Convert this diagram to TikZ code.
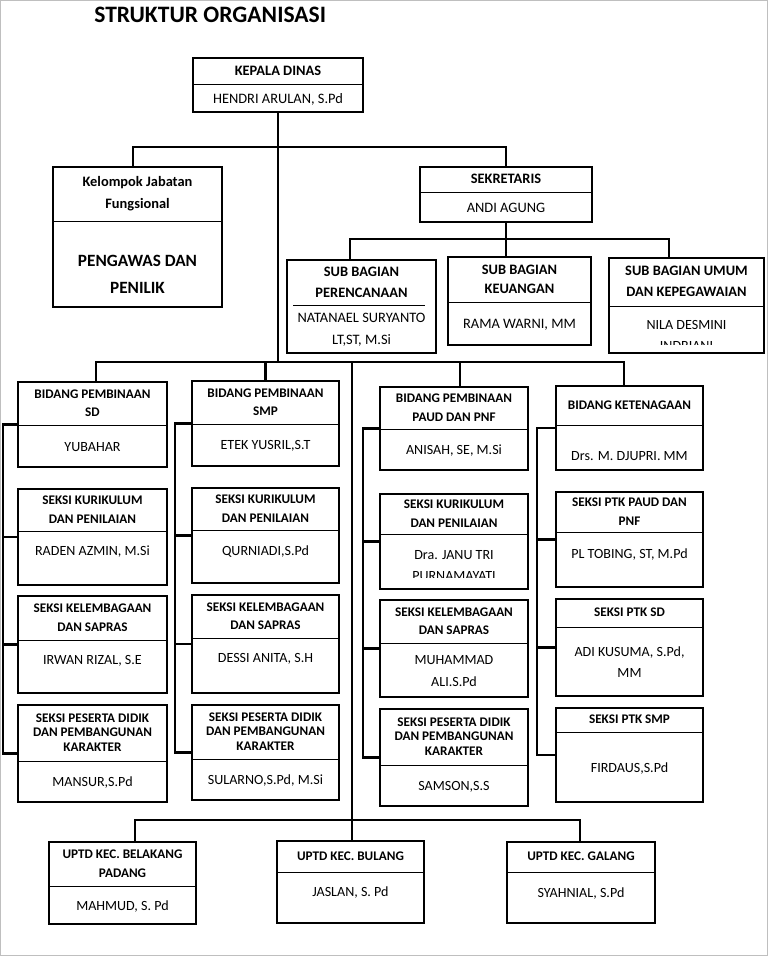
\documentclass[tikz,border=0pt]{standalone}
\usepackage{fontspec}
\setmainfont{Carlito}
\usepackage{tikz}
\usetikzlibrary{calc}
\tikzstyle{orgbox} = [rectangle, draw, line width=1.6pt, inner sep=0pt]
\tikzstyle{posbox} = [rectangle, draw, line width=0.6pt, align=center, inner sep=1pt,
      font=\bfseries\fontsize{7.5}{10.5}\selectfont]
\tikzstyle{topbox} = [posbox, font=\bfseries\fontsize{8.2}{12}\selectfont]
\tikzstyle{personbox} = [align=center, inner sep=1pt, font=\fontsize{8}{12}\selectfont]
\tikzstyle{topperson} = [personbox, font=\fontsize{8.2}{12.5}\selectfont]
\tikzstyle{titletext} = [inner sep=0pt, font=\bfseries\fontsize{13.4}{16}\selectfont]
\tikzstyle{line} = [draw, line width=1.6pt]

\begin{document}
\begin{tikzpicture}[x=0.02cm, y=-0.02cm]
	  \useasboundingbox (0,0) rectangle (768,956);
	  \draw [gray!50, line width=0.6pt] (0.5,0.5) rectangle (767.5,955.5);
	  \node [titletext, anchor=base west] (title) at (94,23) {STRUKTUR ORGANISASI};
	  % Pimpinan
	  \node [orgbox, minimum width=3.4cm, minimum height=1.08cm] (kepala) at (278,85) {};
	  \node [topbox, minimum width=3.4cm, minimum height=0.54cm, anchor=north] (kepalaH) at (kepala.north) {KEPALA DINAS};
	  \node [topperson] (kepalaN) at ($(kepalaH.south)!0.5!(kepala.south)$) {HENDRI ARULAN, S.Pd};
	  \node [orgbox, minimum width=3.38cm, minimum height=2.8cm] (kjf) at (137.5,237) {};
	  \node [topbox, minimum width=3.38cm, minimum height=1.1cm, anchor=north, font=\bfseries\fontsize{8.2}{12.5}\selectfont] (kjfH) at (kjf.north) {Kelompok Jabatan\\Fungsional};
	  \node [personbox, yshift=-0.18cm, font=\bfseries\fontsize{9.8}{15.5}\selectfont] (kjfN) at ($(kjfH.south)!0.5!(kjf.south)$) {PENGAWAS DAN\\PENILIK};
	  \node [orgbox, minimum width=3.44cm, minimum height=1.1cm] (sek) at (506,194.5) {};
	  \node [topbox, minimum width=3.44cm, minimum height=0.52cm, anchor=north] (sekH) at (sek.north) {SEKRETARIS};
	  \node [topperson] (sekN) at ($(sekH.south)!0.5!(sek.south)$) {ANDI AGUNG};
	  % Sub bagian
	  \node [orgbox, minimum width=2.98cm, minimum height=1.86cm] (ren) at (361.5,306.5) {};
	  \node [topbox, draw=none, minimum width=2.98cm, minimum height=0.92cm, anchor=north] (renH) at (ren.north) {SUB BAGIAN\\PERENCANAAN};
	  \draw [line width=0.6pt] ([xshift=0.14cm]renH.south west) -- ([xshift=-0.24cm]renH.south east);
	  \node [topperson] (renN) at ($(renH.south)!0.5!(ren.south)$) {NATANAEL SURYANTO\\LT,ST, M.Si};
	  \node [orgbox, minimum width=2.86cm, minimum height=1.76cm] (keu) at (519.5,301) {};
	  \node [topbox, minimum width=2.86cm, minimum height=0.92cm, anchor=north, font=\bfseries\fontsize{8.2}{11}\selectfont] (keuH) at (keu.north) {SUB BAGIAN\\KEUANGAN};
	  \node [topperson] (keuN) at ($(keuH.south)!0.5!(keu.south)$) {RAMA WARNI, MM};
	  \node [orgbox, minimum width=3.1cm, minimum height=1.9cm] (umum) at (686.5,305.5) {};
	  \node [topbox, minimum width=3.1cm, minimum height=0.98cm, anchor=north] (umumH) at (umum.north) {SUB BAGIAN UMUM\\DAN KEPEGAWAIAN};
	  \begin{scope}
	    \clip ([yshift=0.2cm]umum.south west) rectangle (umumH.south east);
	    \node [personbox, yshift=-0.1cm] (umumN) at ($(umumH.south)!0.5!(umum.south)$) {NILA DESMINI\\INDRIANI};
	  \end{scope}
	  % Bidang SD
	  \node [orgbox, minimum width=2.98cm, minimum height=1.7cm] (sd) at (92.5,424.5) {};
	  \node [posbox, minimum width=2.98cm, minimum height=0.88cm, anchor=north] (sdH) at (sd.north) {BIDANG PEMBINAAN\\SD};
	  \node [personbox] (sdN) at ($(sdH.south)!0.5!(sd.south)$) {YUBAHAR};
	  \node [orgbox, minimum width=2.98cm, minimum height=1.92cm] (sdKur) at (92.5,537) {};
	  \node [posbox, minimum width=2.98cm, minimum height=0.86cm, anchor=north] (sdKurH) at (sdKur.north) {SEKSI KURIKULUM\\DAN PENILAIAN};
	  \node [personbox, yshift=0.14cm] (sdKurN) at ($(sdKurH.south)!0.5!(sdKur.south)$) {RADEN AZMIN, M.Si};
	  \node [orgbox, minimum width=2.98cm, minimum height=1.94cm] (sdLem) at (92.5,644.5) {};
	  \node [posbox, minimum width=2.98cm, minimum height=0.9cm, anchor=north] (sdLemH) at (sdLem.north) {SEKSI KELEMBAGAAN\\DAN SAPRAS};
	  \node [personbox, yshift=0.14cm] (sdLemN) at ($(sdLemH.south)!0.5!(sdLem.south)$) {IRWAN RIZAL, S.E};
	  \node [orgbox, minimum width=2.98cm, minimum height=1.94cm] (sdPes) at (92.5,753.5) {};
	  \node [posbox, minimum width=2.98cm, minimum height=1.14cm, anchor=north] (sdPesH) at (sdPes.north) {SEKSI PESERTA DIDIK\\[-2pt]DAN PEMBANGUNAN\\[-2pt]KARAKTER};
	  \node [personbox] (sdPesN) at ($(sdPesH.south)!0.5!(sdPes.south)$) {MANSUR,S.Pd};
	  % Bidang SMP
	  \node [orgbox, minimum width=2.94cm, minimum height=1.7cm] (smp) at (265.5,423.5) {};
	  \node [posbox, minimum width=2.94cm, minimum height=0.88cm, anchor=north] (smpH) at (smp.north) {BIDANG PEMBINAAN\\SMP};
	  \node [personbox] (smpN) at ($(smpH.south)!0.5!(smp.south)$) {ETEK YUSRIL,S.T};
	  \node [orgbox, minimum width=2.94cm, minimum height=1.9cm] (smpKur) at (265.5,535.5) {};
	  \node [posbox, minimum width=2.94cm, minimum height=0.86cm, anchor=north] (smpKurH) at (smpKur.north) {SEKSI KURIKULUM\\DAN PENILAIAN};
	  \node [personbox, yshift=0.12cm] (smpKurN) at ($(smpKurH.south)!0.5!(smpKur.south)$) {QURNIADI,S.Pd};
	  \node [orgbox, minimum width=2.94cm, minimum height=1.96cm] (smpLem) at (265.5,644) {};
	  \node [posbox, minimum width=2.94cm, minimum height=0.88cm, anchor=north] (smpLemH) at (smpLem.north) {SEKSI KELEMBAGAAN\\DAN SAPRAS};
	  \node [personbox, yshift=0.16cm] (smpLemN) at ($(smpLemH.south)!0.5!(smpLem.south)$) {DESSI ANITA, S.H};
	  \node [orgbox, minimum width=2.94cm, minimum height=1.9cm] (smpPes) at (265.5,752.5) {};
	  \node [posbox, minimum width=2.94cm, minimum height=1.1cm, anchor=north] (smpPesH) at (smpPes.north) {SEKSI PESERTA DIDIK\\[-2pt]DAN PEMBANGUNAN\\[-2pt]KARAKTER};
	  \node [personbox] (smpPesN) at ($(smpPesH.south)!0.5!(smpPes.south)$) {SULARNO,S.Pd, M.Si};
	  % Bidang PAUD
	  \node [orgbox, minimum width=2.96cm, minimum height=1.66cm] (paud) at (454,428.5) {};
	  \node [posbox, minimum width=2.96cm, minimum height=0.86cm, anchor=north] (paudH) at (paud.north) {BIDANG PEMBINAAN\\PAUD DAN PNF};
	  \node [personbox] (paudN) at ($(paudH.south)!0.5!(paud.south)$) {ANISAH, SE, M.Si};
	  \node [orgbox, minimum width=2.96cm, minimum height=1.9cm] (paudKur) at (454,541.5) {};
	  \node [posbox, minimum width=2.96cm, minimum height=0.82cm, anchor=north] (paudKurH) at (paudKur.north) {SEKSI KURIKULUM\\DAN PENILAIAN};
	  \begin{scope}
	    \clip ([yshift=0.26cm]paudKur.south west) rectangle (paudKurH.south east);
	    \node [personbox, yshift=-0.06cm] (paudKurN) at ($(paudKurH.south)!0.5!(paudKur.south)$) {Dra. JANU TRI\\PURNAMAYATI};
	  \end{scope}
	  \node [orgbox, minimum width=2.96cm, minimum height=1.94cm] (paudLem) at (454,648.5) {};
	  \node [posbox, minimum width=2.96cm, minimum height=0.88cm, anchor=north] (paudLemH) at (paudLem.north) {SEKSI KELEMBAGAAN\\DAN SAPRAS};
	  \node [personbox] (paudLemN) at ($(paudLemH.south)!0.5!(paudLem.south)$) {MUHAMMAD\\ALI.S.Pd};
	  \node [orgbox, minimum width=2.96cm, minimum height=1.94cm] (paudPes) at (454,757.5) {};
	  \node [posbox, minimum width=2.96cm, minimum height=1.14cm, anchor=north] (paudPesH) at (paudPes.north) {SEKSI PESERTA DIDIK\\[-2pt]DAN PEMBANGUNAN\\[-2pt]KARAKTER};
	  \node [personbox] (paudPesN) at ($(paudPesH.south)!0.5!(paudPes.south)$) {SAMSON,S.S};
	  % Bidang Ketenagaan
	  \node [orgbox, minimum width=2.94cm, minimum height=1.68cm] (ket) at (629.5,428) {};
	  \node [posbox, minimum width=2.94cm, minimum height=0.8cm, anchor=north] (ketH) at (ket.north) {BIDANG KETENAGAAN};
	  \node [personbox, yshift=-0.16cm] (ketN) at ($(ketH.south)!0.5!(ket.south)$) {Drs. M. DJUPRI. MM};
	  \node [orgbox, minimum width=2.94cm, minimum height=1.9cm] (ptkPaud) at (629.5,539.5) {};
	  \node [posbox, minimum width=2.94cm, minimum height=0.82cm, anchor=north] (ptkPaudH) at (ptkPaud.north) {SEKSI PTK PAUD DAN\\PNF};
	  \node [personbox, yshift=0.12cm] (ptkPaudN) at ($(ptkPaudH.south)!0.5!(ptkPaud.south)$) {PL TOBING, ST, M.Pd};
	  \node [orgbox, minimum width=2.94cm, minimum height=1.94cm] (ptkSd) at (629.5,647.5) {};
	  \node [posbox, minimum width=2.94cm, minimum height=0.58cm, anchor=north] (ptkSdH) at (ptkSd.north) {SEKSI PTK SD};
	  \node [personbox] (ptkSdN) at ($(ptkSdH.south)!0.5!(ptkSd.south)$) {ADI KUSUMA, S.Pd,\\MM};
	  \node [orgbox, minimum width=2.94cm, minimum height=1.88cm] (ptkSmp) at (629.5,755) {};
	  \node [posbox, minimum width=2.94cm, minimum height=0.5cm, anchor=north] (ptkSmpH) at (ptkSmp.north) {SEKSI PTK SMP};
	  \node [personbox] (ptkSmpN) at ($(ptkSmpH.south)!0.5!(ptkSmp.south)$) {FIRDAUS,S.Pd};
	  % UPTD
	  \node [orgbox, minimum width=2.94cm, minimum height=1.64cm] (bel) at (122.5,883) {};
	  \node [posbox, minimum width=2.94cm, minimum height=0.9cm, anchor=north] (belH) at (bel.north) {UPTD KEC. BELAKANG\\PADANG};
	  \node [personbox] (belN) at ($(belH.south)!0.5!(bel.south)$) {MAHMUD, S. Pd};
	  \node [orgbox, minimum width=2.94cm, minimum height=1.64cm] (bul) at (350.5,882) {};
	  \node [posbox, minimum width=2.94cm, minimum height=0.64cm, anchor=north] (bulH) at (bul.north) {UPTD KEC. BULANG};
	  \node [personbox, yshift=0.12cm] (bulN) at ($(bulH.south)!0.5!(bul.south)$) {JASLAN, S. Pd};
	  \node [orgbox, minimum width=2.96cm, minimum height=1.62cm] (gal) at (581,882.5) {};
	  \node [posbox, minimum width=2.96cm, minimum height=0.62cm, anchor=north] (galH) at (gal.north) {UPTD KEC. GALANG};
	  \node [personbox, yshift=0.1cm] (galN) at ($(galH.south)!0.5!(gal.south)$) {SYAHNIAL, S.Pd};
	  % Titik cabang
	  \coordinate (topL) at (133,147);
	  \coordinate (subL) at (350,239);
	  \coordinate (subR) at (669,239);
	  \coordinate (midL) at (96,362);
	  \coordinate (midP) at (460,362);
	  \coordinate (midR) at (624,362);
	  \coordinate (trunk) at (352,362);
	  \coordinate (lowL) at (135,820);
	  \coordinate (lowR) at (580,820);
	  \coordinate (railA) at (3,400);
	  \coordinate (railB) at (175,400);
	  \coordinate (railC) at (363,400);
	  \coordinate (railD) at (537,400);
	  % Garis atas
	  \path [line] (kepala.south) -- (kepala.south |- midL);
	  \path [line] (topL |- kjf.north) -- (topL) -- (topL -| sek.north) -- (sek.north);
	  \path [line] (sek.south) -- (sek.south |- keu.north);
	  \path [line] (subL |- ren.north) -- (subL) -- (subR) -- (subR |- umum.north);
	  \path [line] (midL |- sd.north) -- (midL) -- (midR) -- (midR |- ket.north);
	  \path [line] (smp.north) -- (smp.north |- midL);
	  \path [line] (midP) -- (midP |- paud.north);
	  % Garis bawah
	  \path [line] (trunk) -- (trunk |- bul.north);
	  \path [line] (lowL |- bel.north) -- (lowL) -- (lowR) -- (lowR |- gal.north);
	  % Garis seksi
	  \path [line] (sd.west) -- (sd.west -| railA) -- (sdPes.west -| railA) -- (sdPes.west);
	  \path [line] (sdKur.west -| railA) -- (sdKur.west);
	  \path [line] (sdLem.west -| railA) -- (sdLem.west);
	  \path [line] (smp.west) -- (smp.west -| railB) -- (smpPes.west -| railB) -- (smpPes.west);
	  \path [line] (smpKur.west -| railB) -- (smpKur.west);
	  \path [line] (smpLem.west -| railB) -- (smpLem.west);
	  \path [line] (paud.west) -- (paud.west -| railC) -- (paudPes.west -| railC) -- (paudPes.west);
	  \path [line] (paudKur.west -| railC) -- (paudKur.west);
	  \path [line] (paudLem.west -| railC) -- (paudLem.west);
	  \path [line] (ket.west) -- (ket.west -| railD) -- (ptkSmp.west -| railD) -- (ptkSmp.west);
	  \path [line] (ptkPaud.west -| railD) -- (ptkPaud.west);
	  \path [line] (ptkSd.west -| railD) -- (ptkSd.west);
\end{tikzpicture}
\end{document}
